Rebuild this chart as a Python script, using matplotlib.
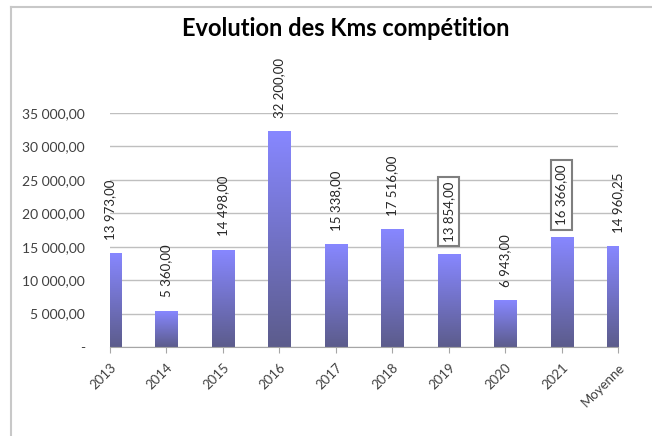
import numpy as np
import matplotlib
matplotlib.use('Agg')
import matplotlib.pyplot as plt
from matplotlib.colors import LinearSegmentedColormap
from matplotlib.lines import Line2D

# kms per season, plus the average
categories = ['2013', '2014', '2015', '2016', '2017', '2018', '2019', '2020', '2021', 'Moyenne']
kms = [13973, 5360, 14498, 32200, 15338, 17516, 13854, 6943, 16366, 14960.25]
boxed = ['2019', '2021']
yticks = [0, 5000, 10000, 15000, 20000, 25000, 30000, 35000]


def fr(v):
    # french style: space for thousands, comma for decimals
    return '{:,.2f}'.format(v).replace(',', ' ').replace('.', ',')


plt.rcParams['font.family'] = ['Lato', 'DejaVu Sans']
fig = plt.figure(figsize=(6.52, 4.36), dpi=100)
W, H = 652, 436
ax = fig.add_axes([110 / W, 1 - 347 / H, 508 / W, 234 / H])

x = np.arange(len(categories))
bars = ax.bar(x, kms, width=0.39, color='none', edgecolor='none', zorder=2)

# vertical gradient inside every bar, clipped to bar and axes
grad = LinearSegmentedColormap.from_list('bar', ['#5c5c8c', '#8787ff'])
for b in bars:
    x0, w, h = b.get_x(), b.get_width(), b.get_height()
    im = ax.imshow(np.linspace(0, 1, 128).reshape(-1, 1), cmap=grad, origin='lower',
                   extent=[x0, x0 + w, 0, h], aspect='auto', zorder=2)
    im.set_clip_path(b)
    im.set_clip_box(ax.bbox)

ax.set_xlim(0, len(categories) - 1)
ax.set_ylim(0, 35000)

# value labels
for i, (c, v) in enumerate(zip(categories, kms)):
    if c in boxed:
        ax.annotate(fr(v), (i, v), xytext=(0, 9), textcoords='offset points',
                    rotation=90, ha='center', va='bottom', fontsize=9.5, color='#262626',
                    annotation_clip=False,
                    bbox=dict(boxstyle='square,pad=0.35', fc='white', ec='#7f7f7f', lw=1.5))
    else:
        ax.annotate(fr(v), (i, v), xytext=(0, 10), textcoords='offset points',
                    rotation=90, ha='center', va='bottom', fontsize=9.5, color='#262626',
                    annotation_clip=False)

# axes and grid
ax.set_yticks(yticks)
ax.set_yticklabels(['-'] + [fr(t) for t in yticks[1:]], fontsize=10, color='#404040')
ax.tick_params(axis='y', length=0, pad=18)
ax.set_xticks(x)
ax.set_xticklabels(categories, rotation=45, ha='right', va='top', rotation_mode='anchor',
                   fontsize=9.5, color='#404040')
ax.tick_params(axis='x', length=4, color='#a6a6a6', pad=6)
ax.grid(axis='y', color='#bfbfbf', lw=1, zorder=0)
ax.set_axisbelow(True)
for s in ['top', 'right', 'left']:
    ax.spines[s].set_visible(False)
ax.spines['bottom'].set_color('#a6a6a6')

# title
fig.text(346 / W, 1 - 28 / H, 'Evolution des Kms compétition', ha='center', va='center',
         fontsize=17, fontweight='bold', color='black')

# chart frame (only top and left visible)
fig.add_artist(Line2D([11 / W, 11 / W], [0, 1 - 7 / H], color='#c8c8c8', lw=1.5,
                      transform=fig.transFigure))
fig.add_artist(Line2D([11 / W, 1], [1 - 7 / H, 1 - 7 / H], color='#c8c8c8', lw=1.5,
                      transform=fig.transFigure))

fig.savefig('out.png', dpi=100)
